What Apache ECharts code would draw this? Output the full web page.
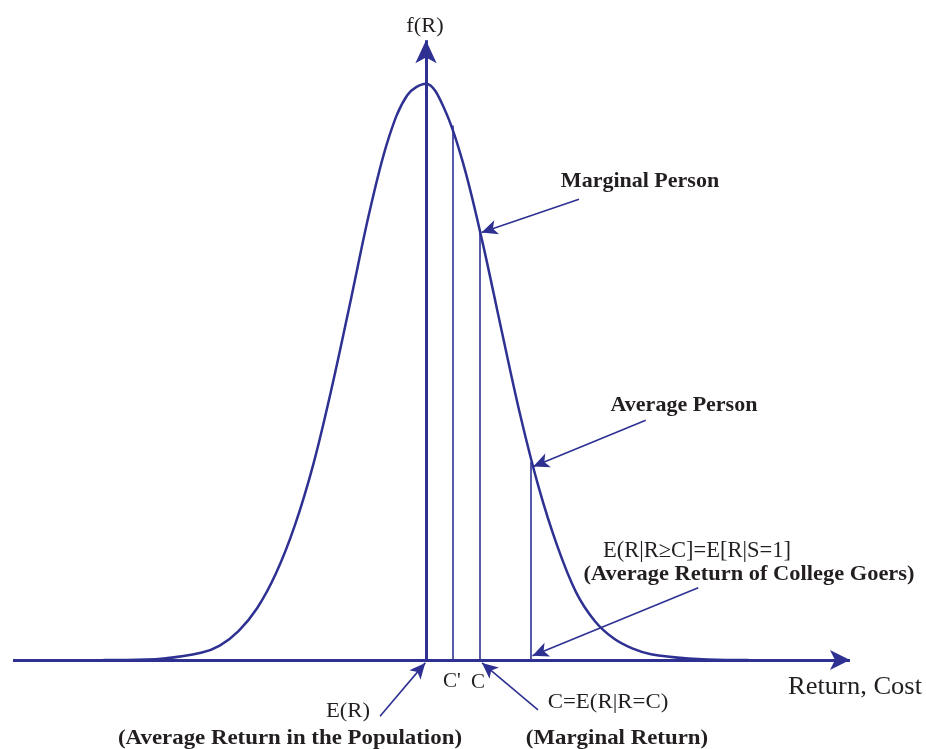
<!DOCTYPE html>
<html>
<head>
<meta charset="utf-8">
<script src="https://cdn.jsdelivr.net/npm/echarts@6/dist/echarts.min.js"></script>
<style>
html,body{margin:0;padding:0;background:#fff;}
#chart{width:926px;height:749px;}
</style>
</head>
<body>
<div id="chart"></div>
<script>
// Return values (in standard-deviation units, E(R) = 0) and density f(R)
const returnGrid = [-4.3, -4.0, -3.5, -3.0, -2.75, -2.5, -2.25, -2.0, -1.75, -1.5, -1.25, -1.0, -0.75, -0.5, -0.25, 0, 0.25, 0.5, 0.75, 1.0, 1.25, 1.5, 1.75, 2.0, 2.25, 2.5, 2.75, 3.0, 3.5, 4.0, 4.3];
const density = [0.000, 0.000, 0.001, 0.005, 0.010, 0.020, 0.036, 0.060, 0.093, 0.136, 0.190, 0.250, 0.311, 0.361, 0.391, 0.399, 0.381, 0.343, 0.290, 0.230, 0.171, 0.120, 0.079, 0.047, 0.027, 0.015, 0.008, 0.004, 0.001, 0.000, 0.000];

// Vertical cut-off lines: C', C (marginal person), E(R|R>=C) (average person)
const cutNames = ["C'", "C", "E(R|R≥C)"];
const cutReturn = [0.35, 0.71, 1.40];
const cutDensity = [0.370, 0.298, 0.137];

// Axis extents
const axisReturnRange = [-5.507, 5.653];
const axisDensityTop = 0.429;

// Annotation arrows: [fromReturn, fromDensity, toReturn, toDensity]
const arrowMarginalPerson = [2.04, 0.319, 0.74, 0.296];
const arrowAveragePerson = [2.93, 0.166, 1.43, 0.134];
const arrowCollegeGoers = [3.63, 0.050, 1.42, 0.003];
const arrowPopulation = [-0.613, -0.039, -0.01, -0.002];
const arrowMarginalReturn = [1.493, -0.0346, 0.747, -0.002];

const BLUE = '#2E3192';
const INK = '#231F20';

const chart = echarts.init(document.getElementById('chart'));

function arrowLine(a, size) {
  return [
    { coord: [a[0], a[1]], symbol: 'none' },
    { coord: [a[2], a[3]], symbol: 'arrow', symbolSize: size }
  ];
}

const cutLines = cutReturn.map((x, i) => [
  { coord: [x, 0], symbol: 'none', name: cutNames[i] },
  { coord: [x, cutDensity[i]], symbol: 'none' }
]);

function txt(text, x, y, size, bold, sx) {
  return {
    type: 'text', x: x, y: y, scaleX: sx || 1, z: 100,
    style: {
      text: text,
      font: (bold ? 'bold ' : '') + size + 'px "Liberation Serif", "Times New Roman", serif',
      fill: INK,
      textAlign: 'center',
      textVerticalAlign: 'middle'
    }
  };
}

chart.setOption({
  animation: false,
  backgroundColor: '#fff',
  grid: { left: 6, right: 65, top: 10, bottom: 2.333, containLabel: false },
  xAxis: { type: 'value', min: -5.6, max: 5.8, show: false },
  yAxis: { type: 'value', min: -0.06, max: 0.45, show: false },
  series: [
    {
      name: 'f(R)',
      type: 'line',
      data: returnGrid.map((x, i) => [x, density[i]]),
      smooth: 0.35,
      showSymbol: false,
      clip: false,
      lineStyle: { color: BLUE, width: 2.5 },
      z: 3
    },
    {
      name: 'cutoffs',
      type: 'line',
      data: [],
      markLine: {
        silent: true,
        animation: false,
        label: { show: false },
        lineStyle: { color: BLUE, width: 1.6, type: 'solid' },
        data: cutLines
      },
      z: 2
    },
    {
      name: 'axes',
      type: 'line',
      data: [],
      markLine: {
        silent: true,
        animation: false,
        label: { show: false },
        lineStyle: { color: BLUE, width: 3, type: 'solid' },
        data: [
          arrowLine([axisReturnRange[0], 0, axisReturnRange[1], 0], [15, 20]),
          arrowLine([0, 0, 0, axisDensityTop], [16, 23])
        ]
      },
      z: 4
    },
    {
      name: 'annotations',
      type: 'line',
      data: [],
      markLine: {
        silent: true,
        animation: false,
        label: { show: false },
        lineStyle: { color: BLUE, width: 1.6, type: 'solid' },
        data: [
          arrowLine(arrowMarginalPerson, [11, 16]),
          arrowLine(arrowAveragePerson, [11, 16]),
          arrowLine(arrowCollegeGoers, [11, 16]),
          arrowLine(arrowPopulation, [11, 16]),
          arrowLine(arrowMarginalReturn, [11, 16])
        ]
      },
      z: 5
    }
  ],
  graphic: [
    txt('f(R)', 425, 27, 20, false, 1.12),
    txt("C'", 452, 681, 21, false),
    txt('C', 478, 682, 21, false),
    txt('E(R)', 348, 711, 21, false, 1.08),
    txt('(Average Return in the Population)', 290, 738, 22, true, 1.04),
    txt('C=E(R|R=C)', 608, 702, 22, false, 1.04),
    txt('(Marginal Return)', 617, 738, 22, true, 1.04),
    txt('Marginal Person', 640, 181, 22, true, 1.0),
    txt('Average Person', 684, 405, 22, true, 1.0),
    txt('E(R|R≥C]=E[R|S=1]', 697, 551, 22.5, false, 1.0),
    txt('(Average Return of College Goers)', 749, 574, 22, true, 1.02),
    txt('Return, Cost', 855, 687, 25, false, 1.06)
  ]
});
</script>
</body>
</html>
